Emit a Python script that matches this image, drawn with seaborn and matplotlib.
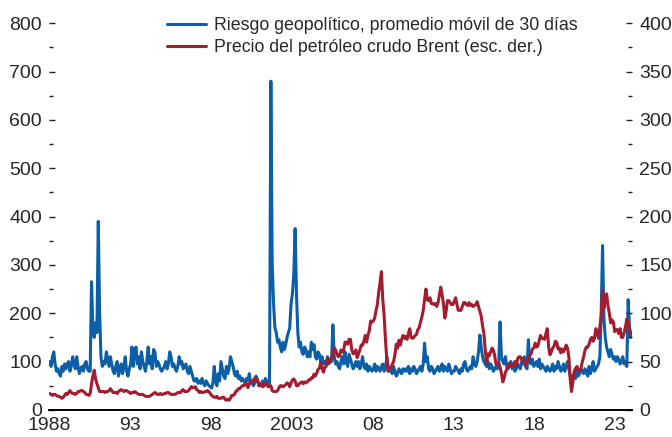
import numpy as np
import pandas as pd
import matplotlib
matplotlib.use("Agg")
import matplotlib.pyplot as plt
import seaborn as sns
from matplotlib.ticker import MultipleLocator

# Geopolitical risk index, 30-day moving average (monthly readings, Jan 1988 - Jan 2024)
gpr = [
    100, 90, 110, 120, 95, 80, 85, 75, 70, 90, 80, 95,        # 1988
    85, 95, 100, 80, 90, 110, 95, 85, 110, 90, 75, 85,        # 1989
    90, 80, 95, 100, 85, 80, 80, 265, 170, 150, 180, 160,     # 1990
    390, 200, 110, 90, 100, 95, 120, 105, 90, 110, 95, 80,    # 1991
    75, 90, 100, 70, 85, 95, 75, 90, 110, 80, 70, 85,         # 1992
    95, 130, 90, 120, 130, 95, 110, 85, 120, 100, 90, 80,     # 1993
    100, 130, 95, 110, 85, 125, 120, 90, 100, 95, 85, 80,     # 1994
    85, 90, 100, 85, 95, 120, 110, 90, 95, 85, 80, 90,        # 1995
    110, 95, 100, 85, 90, 95, 80, 75, 90, 80, 70, 60,         # 1996
    60, 65, 55, 60, 55, 65, 55, 50, 60, 55, 50, 48,           # 1997
    45, 55, 90, 60, 50, 75, 60, 100, 85, 70, 65, 90,          # 1998
    75, 85, 110, 100, 90, 75, 70, 80, 65, 70, 60, 65,         # 1999
    60, 55, 65, 60, 75, 55, 60, 50, 55, 70, 60, 55,           # 2000
    50, 55, 60, 50, 65, 55, 60, 55, 680, 300, 220, 170,       # 2001
    160, 140, 145, 130, 120, 140, 125, 135, 150, 160, 170, 220,  # 2002
    240, 280, 375, 240, 160, 130, 140, 120, 115, 130, 125, 110,  # 2003
    120, 110, 140, 125, 135, 110, 105, 120, 115, 100, 110, 95,   # 2004
    100, 95, 110, 95, 105, 100, 176, 110, 95, 100, 90, 85,    # 2005
    100, 110, 95, 120, 100, 90, 115, 105, 95, 85, 90, 100,    # 2006
    90, 100, 85, 95, 110, 90, 85, 95, 80, 90, 85, 80,         # 2007
    85, 95, 80, 90, 85, 80, 90, 95, 80, 85, 110, 90,          # 2008
    80, 85, 75, 90, 80, 70, 75, 85, 80, 75, 85, 80,           # 2009
    85, 80, 90, 75, 85, 80, 90, 85, 75, 80, 85, 90,           # 2010
    80, 95, 138, 100, 110, 85, 80, 90, 85, 75, 80, 85,        # 2011
    90, 80, 85, 95, 80, 90, 85, 80, 95, 85, 75, 80,           # 2012
    80, 90, 85, 80, 75, 85, 80, 95, 100, 85, 80, 85,          # 2013
    90, 85, 110, 95, 90, 100, 120, 155, 130, 110, 100, 95,    # 2014
    90, 100, 85, 95, 90, 80, 85, 90, 85, 95, 182, 110,        # 2015
    100, 95, 110, 90, 85, 95, 100, 85, 90, 80, 85, 95,        # 2016
    90, 85, 100, 95, 110, 90, 85, 145, 100, 95, 105, 90,      # 2017
    95, 100, 90, 105, 85, 95, 90, 85, 80, 90, 85, 80,         # 2018
    85, 95, 80, 90, 85, 100, 90, 80, 85, 95, 80, 90,          # 2019
    100, 85, 70, 65, 70, 75, 65, 80, 70, 75, 85, 80,          # 2020
    75, 85, 80, 70, 90, 75, 85, 100, 80, 85, 90, 95,          # 2021
    110, 200, 340, 190, 150, 130, 120, 110, 125, 115, 105, 110,  # 2022
    100, 110, 105, 95, 100, 110, 95, 100, 90, 228, 170, 150,  # 2023
    160,                                                      # 2024
]

# Brent crude oil price, USD per barrel (right scale)
brent = [
    17, 16, 15, 16, 16, 15, 14, 14, 13, 12, 13, 15,           # 1988
    17, 16, 18, 20, 18, 17, 17, 16, 17, 19, 19, 20,           # 1989
    20, 19, 18, 16, 16, 15, 17, 27, 35, 41, 32, 27,           # 1990
    23, 19, 19, 19, 19, 18, 19, 19, 20, 22, 20, 18,           # 1991
    18, 18, 17, 19, 20, 21, 20, 19, 20, 20, 19, 18,           # 1992
    17, 18, 18, 19, 18, 17, 16, 16, 16, 16, 15, 14,           # 1993
    14, 14, 14, 15, 16, 17, 18, 17, 16, 16, 17, 16,           # 1994
    16, 17, 17, 18, 18, 17, 16, 16, 16, 16, 17, 18,           # 1995
    18, 18, 20, 21, 19, 19, 19, 20, 22, 24, 23, 23,           # 1996
    24, 21, 20, 18, 19, 18, 18, 19, 19, 20, 19, 17,           # 1997
    15, 14, 13, 13, 14, 12, 12, 12, 13, 13, 11, 10,           # 1998
    11, 10, 12, 15, 15, 16, 19, 20, 22, 22, 24, 25,           # 1999
    25, 27, 27, 23, 27, 29, 28, 30, 33, 31, 32, 25,           # 2000
    25, 27, 24, 25, 28, 27, 24, 25, 25, 20, 19, 19,           # 2001
    19, 20, 23, 25, 25, 24, 25, 26, 28, 27, 24, 28,           # 2002
    31, 32, 30, 25, 25, 27, 28, 29, 27, 29, 28, 29,           # 2003
    31, 31, 33, 33, 37, 35, 38, 42, 43, 49, 43, 39,           # 2004
    44, 45, 53, 52, 49, 54, 57, 64, 62, 58, 55, 56,           # 2005
    62, 60, 62, 70, 70, 68, 73, 73, 62, 58, 59, 62,           # 2006
    54, 58, 62, 67, 67, 71, 77, 70, 77, 82, 92, 91,           # 2007
    92, 95, 103, 109, 122, 132, 143, 114, 98, 72, 53, 40,     # 2008
    44, 43, 47, 50, 57, 68, 64, 72, 67, 73, 77, 74,           # 2009
    76, 73, 79, 84, 75, 74, 75, 77, 78, 83, 85, 91,           # 2010
    96, 103, 114, 125, 114, 113, 116, 110, 110, 109, 110, 107,  # 2011
    111, 119, 127, 119, 110, 95, 102, 113, 113, 111, 109, 109,  # 2012
    112, 116, 109, 103, 103, 103, 107, 111, 111, 109, 108, 111,  # 2013
    108, 109, 107, 108, 109, 112, 107, 102, 97, 87, 79, 62,   # 2014
    48, 58, 56, 60, 64, 62, 56, 47, 48, 48, 44, 38,           # 2015
    29, 33, 39, 42, 47, 48, 45, 46, 47, 50, 45, 53,           # 2016
    55, 55, 52, 53, 50, 46, 49, 51, 56, 58, 63, 64,           # 2017
    69, 65, 66, 72, 77, 74, 74, 73, 79, 84, 65, 57,           # 2018
    60, 64, 66, 71, 70, 63, 64, 59, 63, 60, 63, 67,           # 2019
    64, 55, 32, 19, 29, 40, 43, 45, 41, 40, 43, 50,           # 2020
    55, 62, 65, 65, 68, 73, 75, 71, 74, 84, 81, 74,           # 2021
    86, 97, 124, 105, 113, 120, 108, 100, 90, 93, 91, 81,     # 2022
    83, 83, 79, 84, 75, 75, 80, 86, 94, 91, 83, 78,           # 2023
    80,                                                       # 2024
]

tick_years = [1988, 1993, 1998, 2003, 2008, 2013, 2018, 2023]
tick_labels = ["1988", "93", "98", "2003", "08", "13", "18", "23"]

df = pd.DataFrame({"gpr": gpr, "brent": brent})
df["year"] = 1988 + (np.arange(len(df)) + 0.5) / 12

sns.set_style("white")
plt.rcParams["font.family"] = ["Liberation Sans", "DejaVu Sans"]

blue = "#0b5ea8"
red = "#a61c2f"

fig = plt.figure(figsize=(6.72, 4.37), dpi=100)
ax = fig.add_axes([0.073, 0.062, 0.868, 0.885])
ax2 = ax.twinx()

sns.lineplot(data=df, x="year", y="gpr", ax=ax, color=blue, lw=2.2,
             label="Riesgo geopolítico, promedio móvil de 30 días", legend=False)
sns.lineplot(data=df, x="year", y="brent", ax=ax2, color=red, lw=2.2,
             label="Precio del petróleo crudo Brent (esc. der.)", legend=False)

ax.set_xlim(1988, 2024.05)
ax.set_ylim(0, 800)
ax2.set_ylim(0, 400)
ax.set_xticks(tick_years)
ax.set_xticklabels(tick_labels)
ax.set_xlabel("")
ax.set_ylabel("")
ax2.set_ylabel("")

ax.yaxis.set_major_locator(MultipleLocator(100))
ax.yaxis.set_minor_locator(MultipleLocator(50))
ax2.yaxis.set_major_locator(MultipleLocator(50))
ax2.yaxis.set_minor_locator(MultipleLocator(25))

for a in (ax, ax2):
    for s in ("top", "left", "right"):
        a.spines[s].set_visible(False)
    a.spines["bottom"].set_color("black")
    a.spines["bottom"].set_linewidth(1.2)
    a.tick_params(axis="y", which="major", direction="in", length=4.5, width=1.0,
                  color="#222222", labelsize=14, pad=5)
    a.tick_params(axis="y", which="minor", direction="in", length=3, width=1.0,
                  color="#222222", left=a is ax, right=a is ax2)
ax.tick_params(axis="x", direction="in", length=4, width=1.0, labelsize=14, pad=5,
               color="black")

h1, l1 = ax.get_legend_handles_labels()
h2, l2 = ax2.get_legend_handles_labels()
ax2.legend(h1 + h2, l1 + l2, loc="upper left", bbox_to_anchor=(0.19, 1.035),
           frameon=False, fontsize=12.8, handlelength=2.2, handletextpad=0.45,
           labelspacing=0.3, borderaxespad=0)

fig.savefig("out.png", dpi=100)
